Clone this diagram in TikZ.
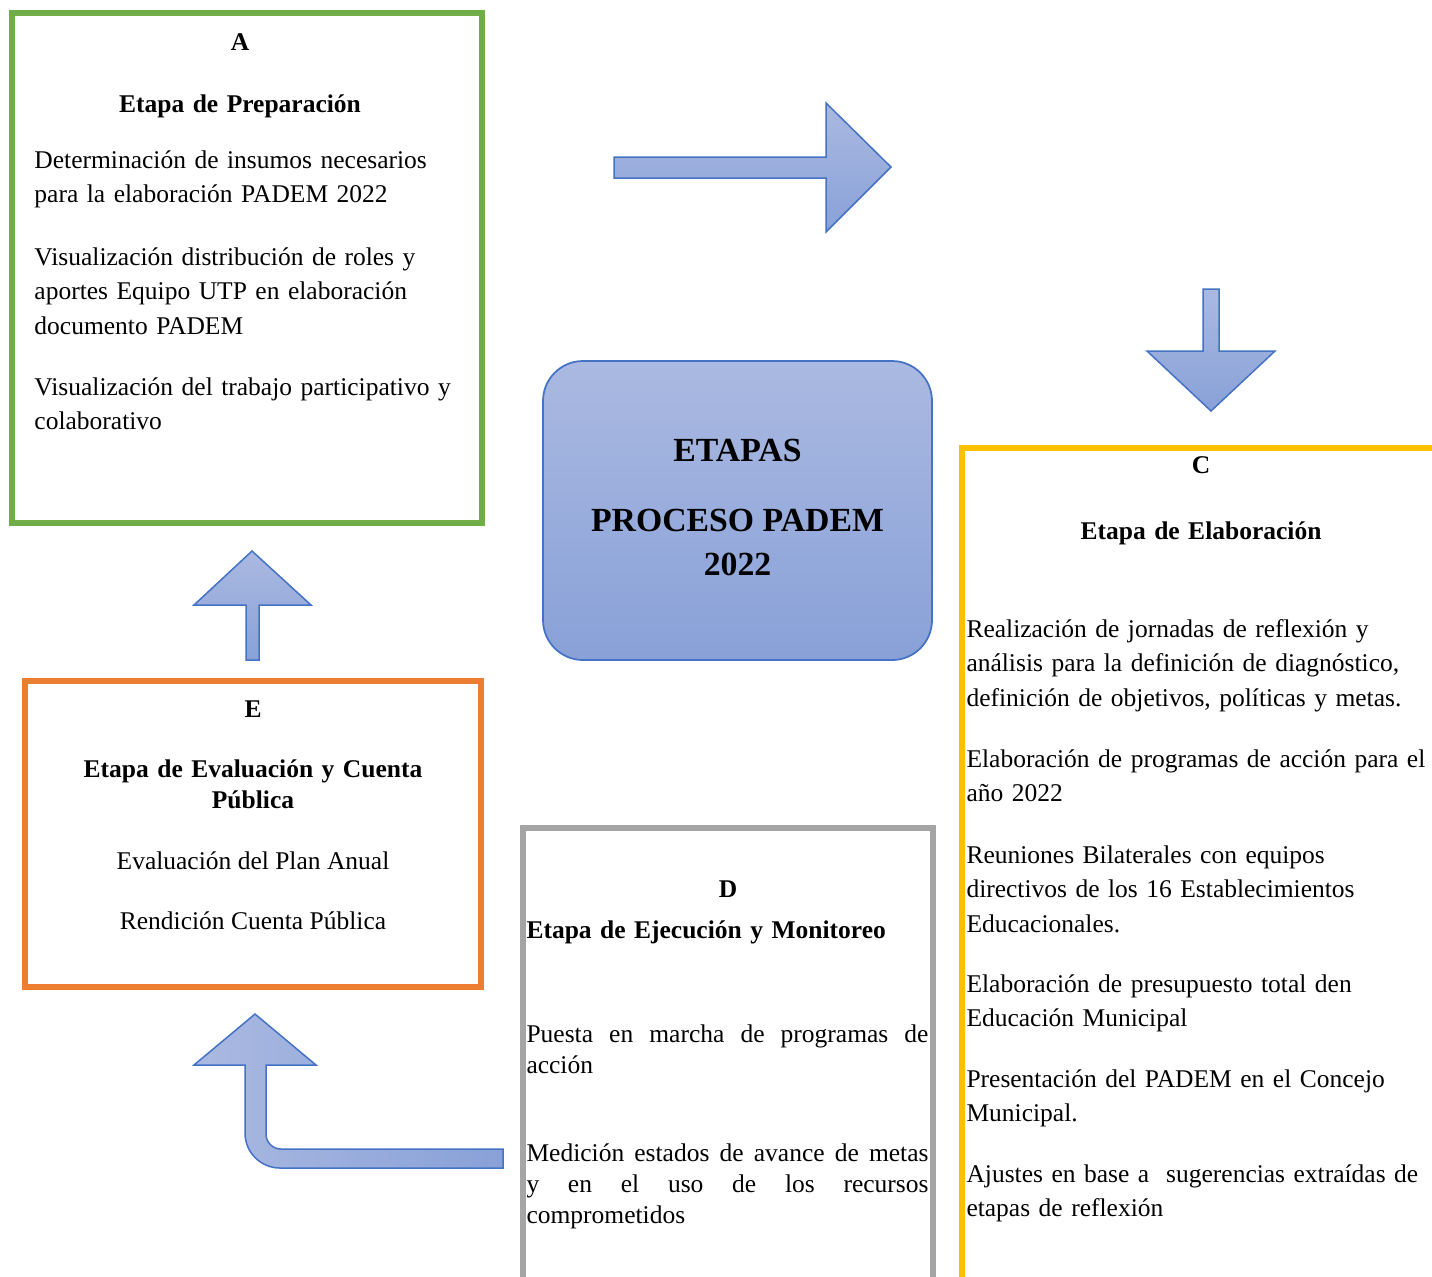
\documentclass[tikz,border=0pt]{standalone}
\usepackage{fontspec}
\setmainfont{Liberation Serif}

\definecolor{padgreen}{RGB}{112,173,71}
\definecolor{padorange}{RGB}{237,125,49}
\definecolor{padgray}{RGB}{165,165,165}
\definecolor{padyellow}{RGB}{255,192,0}
\definecolor{padblue}{RGB}{68,114,196}
\definecolor{shadetop}{RGB}{170,185,225}
\definecolor{shadebottom}{RGB}{137,161,216}

\begin{document}
\begin{tikzpicture}[x=0.4pt, y=-0.4pt]
\tikzset{
  stagebox/.style={line width=2.4pt, line join=miter},
  blockarrow/.style={draw=padblue, line width=0.6pt, line join=miter, top color=shadetop, bottom color=shadebottom},
  bentarrow/.style={draw=padblue, line width=0.6pt, line join=miter, left color=shadetop, right color=shadebottom},
  stageletter/.style={anchor=base, inner sep=0pt, font=\bfseries\fontsize{10.2}{13.8}\selectfont},
  stagetitle/.style={anchor=base, inner sep=0pt, align=center, text width=180pt, font=\bfseries\fontsize{10.2}{12.4}\selectfont},
  stageitem/.style={anchor=base west, inner sep=0pt, align=left, text width=215pt, font=\fontsize{10.2}{13.8}\selectfont},
  stageline/.style={anchor=base, inner sep=0pt, font=\fontsize{10.2}{13.8}\selectfont},
  monitem/.style={anchor=base west, inner sep=0pt, align=justify, text width=160.8pt, font=\fontsize{10.2}{12.4}\selectfont},
  hubbox/.style={draw=padblue, line width=0.7pt, rounded corners=16pt, top color=shadetop, bottom color=shadebottom, minimum width=155.6pt, minimum height=119.6pt, align=center, font=\bfseries\fontsize{13.5}{17.6}\selectfont}
}
\useasboundingbox (0,0) rectangle (1432,1276);

% centre
\node[hubbox] (hub) at (737.5,510.5) {ETAPAS\\[10.4pt]PROCESO PADEM\\2022\rule[-2.4pt]{0pt}{2.4pt}};

% A: preparacion
\draw[stagebox, draw=padgreen] (12,13) rectangle (482,523);
\node[stageletter] (letA) at (240,50) {A};
\node[stagetitle] (titleA) at (240,112) {Etapa de Preparación};
\node[stageitem] (itemA1) at (34,168) {Determinación de insumos necesarios\\para la elaboración PADEM 2022};
\node[stageitem] (itemA2) at (34,265) {Visualización distribución de roles y\\aportes Equipo UTP en elaboración\\documento PADEM};
\node[stageitem] (itemA3) at (34,395) {Visualización del trabajo participativo y\\colaborativo};

% C: elaboracion
\draw[stagebox, draw=padyellow] (1445,448) -- (962,448) -- (962,1290);
\node[stageletter] (letC) at (1201,473) {C};
\node[stagetitle] (titleC) at (1201,539) {Etapa de Elaboración};
\node[stageitem] (itemC1) at (966,637) {Realización de jornadas de reflexión y\\análisis para la definición de diagnóstico,\\definición de objetivos, políticas y metas.};
\node[stageitem] (itemC2) at (966,767) {Elaboración de programas de acción para el\\año 2022};
\node[stageitem] (itemC3) at (966,863) {Reuniones Bilaterales con equipos\\directivos de los 16 Establecimientos\\Educacionales.};
\node[stageitem] (itemC4) at (966,992) {Elaboración de presupuesto total den\\Educación Municipal};
\node[stageitem] (itemC5) at (966,1087) {Presentación del PADEM en el Concejo\\Municipal.};
\node[stageitem] (itemC6) at (966,1182) {Ajustes en base a\ \ sugerencias extraídas de\\etapas de reflexión};

% D: ejecucion
\draw[stagebox, draw=padgray] (523,1290) -- (523,828) -- (932.5,828) -- (932.5,1290);
\node[stageletter] (letD) at (728,897) {D};
\node[stageitem, font=\bfseries\fontsize{10.2}{12.4}\selectfont] (titleD) at (526,938) {Etapa de Ejecución y Monitoreo};
\node[monitem] (itemD1) at (526,1042) {Puesta en marcha de programas de\linebreak acción};
\node[monitem] (itemD2) at (526,1161) {Medición estados de avance de metas\linebreak y en el uso de los recursos\linebreak comprometidos};

% E: evaluacion
\draw[stagebox, draw=padorange] (25,681) rectangle (481,987);
\node[stageletter] (letE) at (253,717) {E};
\node[stagetitle] (titleE) at (253,777) {Etapa de Evaluación y Cuenta\\Pública};
\node[stageline] (itemE1) at (253,869) {Evaluación del Plan Anual};
\node[stageline] (itemE2) at (253,929) {Rendición Cuenta Pública};

% block arrows
\path[blockarrow] (614,157) -- (826,157) -- (826,103) -- (891,167) -- (826,232) -- (826,178) -- (614,178) -- cycle;
\path[blockarrow] (1203,289) -- (1219,289) -- (1219,351) -- (1275,351) -- (1211,411) -- (1147,351) -- (1203,351) -- cycle;
\path[blockarrow] (246,660) -- (246,605) -- (194,605) -- (252,551) -- (311,605) -- (259,605) -- (259,660) -- cycle;
\path[bentarrow] (503,1149) -- (281,1149) .. controls (272.7,1149) and (266,1142.3) .. (266,1134) -- (266,1065) -- (316,1065) -- (255,1014) -- (194,1065) -- (245,1065) -- (245,1133) .. controls (245,1152.3) and (260.7,1168) .. (280,1168) -- (503,1168) -- cycle;
\end{tikzpicture}
\end{document}
